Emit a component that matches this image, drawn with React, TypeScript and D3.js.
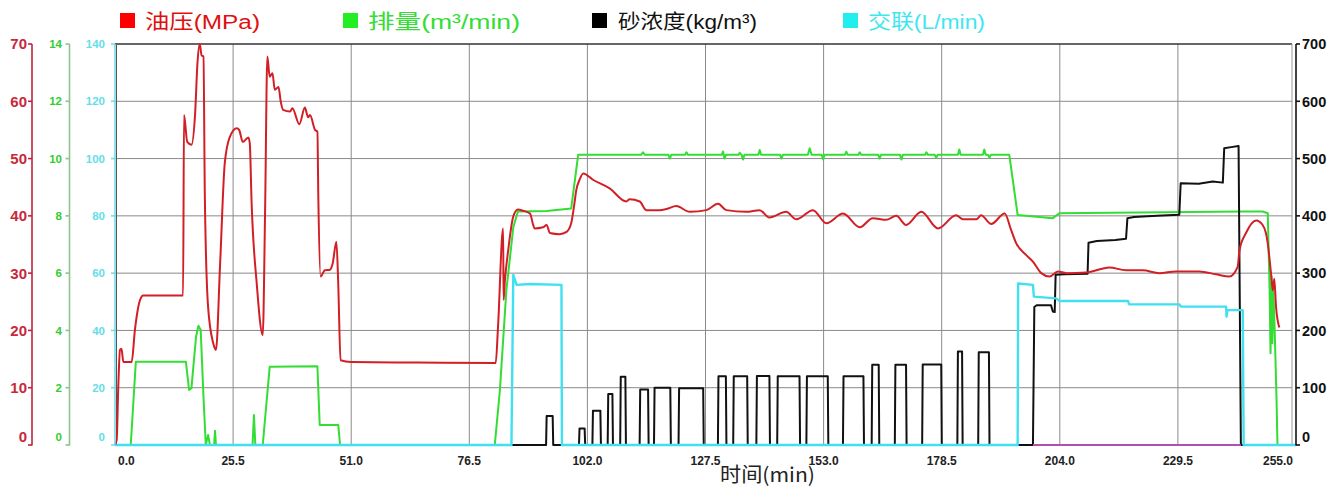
import React, { useEffect } from 'react';
import * as d3 from 'd3';

const W = 1341;
const H = 487;

// ---- tick values ----
const timeTicks = [0, 25.5, 51, 76.5, 102, 127.5, 153, 178.5, 204, 229.5, 255];
const pressureTicks = [0, 10, 20, 30, 40, 50, 60, 70];
const rateTicks = [0, 2, 4, 6, 8, 10, 12, 14];
const xlinkTicks = [0, 20, 40, 60, 80, 100, 120, 140];
const sandTicks = [0, 100, 200, 300, 400, 500, 600, 700];

// ---- 油压 (MPa) ----
const pressureT = [0, 0.36, 0.7, 1.08, 1.4, 1.8, 3.6, 4.3, 5.4, 6.1, 14.7, 14.9, 15.6, 16.5, 17.3, 17.8, 18.3, 18.7, 19.1, 19.4, 20.1, 21.2, 21.8, 22.7, 23.7, 24.8, 26.3, 26.8, 27.6, 28.8, 29.1, 29.5, 30.6, 31.9, 32.4, 32.9, 33.4, 34.0, 34.5, 35.3, 35.8, 36.3, 37.8, 38.3, 39.8, 41.0, 41.7, 42.1, 43.2, 43.7, 43.9, 44.4, 45.3, 46.4, 47.0, 47.8, 48.2, 48.7, 51, 65, 82.2, 82.7, 83.8, 83.9, 84.2, 84.9, 86.0, 87.0, 88.1, 89.6, 90.3, 90.6, 92.4, 93.2, 93.9, 96.0, 97.5, 98.5, 99.1, 99.6, 100.3, 101.1, 103.2, 106.8, 110.4, 111.1, 113.3, 114.7, 117.6, 119.1, 121.2, 124.1, 127.7, 130.2, 132.0, 136.3, 139.2, 141.3, 144.9, 147.1, 150.7, 153.6, 157.2, 160.8, 163.6, 166.5, 168.7, 170.8, 174.1, 177.7, 181.6, 183.1, 186.0, 187.0, 189.2, 192.1, 193.5, 194.6, 196.7, 198.2, 200.0, 201.8, 203.6, 205.4, 209.7, 214.7, 218.3, 221.9, 225.5, 229.1, 234.1, 237.7, 240.6, 242.4, 242.8, 244.2, 246.4, 247.8, 248.5, 248.9, 249.6, 250.0, 250.3, 250.7, 251.4];
const pressureV = [0, 0.9, 10, 16.6, 16.8, 14.5, 14.5, 20.1, 25.3, 26.1, 26.1, 57.6, 52.9, 52.4, 57.9, 66.6, 70, 68, 67.8, 43.3, 24.1, 17.8, 16.6, 31.7, 49.2, 53.8, 55.3, 55.0, 52.9, 53.7, 52.7, 42.2, 28.2, 19.2, 40.4, 67.8, 64.3, 64.9, 62.0, 62.5, 59.9, 58.5, 58.2, 58.8, 56.0, 58.9, 57.2, 57.6, 55.0, 54.7, 43.3, 29.4, 30.5, 30.6, 31.7, 35.5, 28.2, 14.8, 14.5, 14.4, 14.3, 20.6, 37.8, 25.3, 28.8, 34.0, 39.9, 41.1, 40.9, 40.4, 38.4, 37.8, 38.0, 38.4, 37.0, 36.8, 37.2, 38.7, 41.6, 44.5, 46.3, 47.4, 46.3, 44.8, 42.5, 42.9, 42.5, 41.0, 41.0, 41.2, 41.7, 40.7, 41.0, 42.1, 41.0, 40.7, 41.0, 39.7, 40.7, 39.4, 41.0, 38.7, 40.4, 38.0, 39.6, 39.3, 40.0, 38.4, 40.7, 37.8, 40.1, 39.4, 39.4, 40.1, 38.6, 40.4, 37.5, 35.2, 33.2, 32.0, 30.0, 29.4, 30.3, 30.0, 30.1, 31.0, 30.5, 30.5, 30.0, 30.3, 30.3, 29.8, 29.4, 31.1, 34.0, 37.0, 39.2, 38.4, 37.0, 35.2, 30.0, 27.0, 29.0, 24.0, 20.5];

// ---- 排量 (m³/min) ----
const rateT = [0, 3.4, 4.5, 15.3, 16.0, 16.5, 17.5, 18.0, 18.5, 19.1, 19.6, 20.1, 20.5, 21.4, 21.6, 21.8, 29.7, 30.0, 30.3, 31.9, 33.4, 43.7, 44.2, 48.2, 48.6, 82.0, 83.1, 84.5, 86.0, 87.0, 93.2, 98.5, 99.3,
  100.0, 113.6, 114.0, 114.4, 119.5, 119.8, 120.1, 123.1, 123.4, 123.7, 131.0, 131.3, 131.6, 131.9, 134.6, 134.9, 135.3, 135.6, 135.9, 138.9, 139.2, 139.5, 143.6, 143.9, 144.2, 149.6, 150.0, 150.4, 152.6, 152.9, 153.2, 157.6, 157.9, 158.2, 160.5, 160.8, 161.1, 164.8, 165.1, 165.4, 169.5, 169.8, 170.1, 174.9, 175.2, 175.5, 177.0, 177.3, 177.6, 182.0, 182.3, 182.6, 187.4, 187.7, 188.0, 188.5, 188.8, 189.1, 193.1,
  194.9, 202.5, 203.9, 243.5, 247.8, 248.9, 249.3, 249.5, 249.7, 249.9, 250.1, 250.4, 250.8, 251.0, 255];
const rateV = [0, 0, 2.91, 2.91, 1.92, 1.98, 3.78, 4.16, 4.02, 1.7, 0, 0.35, 0, 0, 0.5, 0, 0, 1.05, 0, 0, 2.73, 2.75, 0.7, 0.7, 0, 0, 1.9, 5.4, 7.6, 8.15, 8.17, 8.26, 9.25,
  10.13, 10.13, 10.22, 10.13, 10.13, 10.0, 10.13, 10.13, 10.22, 10.13, 10.13, 10.25, 10.0, 10.13, 10.13, 10.2, 10.13, 9.97, 10.13, 10.13, 10.3, 10.13, 10.13, 10.0, 10.13, 10.13, 10.36, 10.13, 10.13, 9.97, 10.13, 10.13, 10.24, 10.13, 10.13, 10.22, 10.13, 10.13, 10.0, 10.13, 10.13, 9.97, 10.13, 10.13, 10.22, 10.13, 10.13, 10.03, 10.13, 10.13, 10.32, 10.13, 10.13, 10.32, 10.13, 10.13, 10.03, 10.13, 10.13,
  8.03, 7.92, 8.09, 8.15, 8.15, 8.09, 5.4, 3.2, 5.9, 3.55, 5.4, 4.0, 1.57, 0, 0];

// ---- 砂浓度 (kg/m³): pulses [start, end, level] then the staircase ----
const sandPulseStart = [93.2, 100.3, 103.2, 106.5, 109.2, 113.4, 116.5, 121.8, 130.3, 133.6, 138.6, 143.1, 149.4, 157.3, 163.5, 168.5, 174.4, 182.0, 186.5];
const sandPulseEnd = [94.5, 101.4, 104.8, 107.4, 110.2, 115.1, 119.9, 127.0, 131.9, 136.5, 141.3, 147.8, 153.9, 161.6, 164.9, 170.8, 178.4, 182.9, 188.7];
const sandPulseLevel = [50.6, 29, 60, 89, 119, 97, 100, 99, 120, 120, 120.5, 120, 120, 120, 140, 140, 140.5, 163, 162];
const sandStairT = [198.2, 198.5, 199.0, 202.1, 202.5, 202.9, 203.1, 205, 210, 210.2, 212, 216, 218.3, 218.6, 220, 225, 229.8, 230.1, 234, 237, 239.2, 239.5, 241, 242.6, 243.1, 255];
const sandStairV = [0, 241, 244, 244, 233, 232, 297, 298, 299, 353, 356, 358, 360, 396, 398, 400, 402, 457, 456, 460, 458, 518, 520, 522, 0, 0];

// ---- 交联 (L/min) ----
const xlinkT = [0, 85.6, 86.0, 86.7, 89.6, 96.4, 96.5, 194.9, 195.0, 198.2, 198.4, 203.2, 203.9, 218.7, 219.0, 229.8, 230.2, 239.9, 240.0, 240.2, 243.5, 243.7, 255];
const xlinkV = [0, 0, 59.4, 55.9, 56.2, 55.9, 0, 0, 56.4, 55.9, 51.8, 51.2, 50.3, 50.3, 49.1, 49.1, 48.3, 48.3, 44.8, 47.1, 47.1, 0, 0];

// ---- extra zero trace (magenta) ----
const extraT = [198.2, 243.1];
const extraV = [0, 0];

const legendLabels = ['油压(MPa)', '排量(m³/min)', '砂浓度(kg/m³)', '交联(L/min)'];
const legendSwatch = ['#ff0000', '#22ee22', '#000000', '#22eeee'];
const legendText = ['#e01010', '#33dd33', '#111111', '#3ee6f0'];

const zip = (t: number[], v: number[]): [number, number][] => t.map((d, i) => [d, v[i]]);

export default function App() {
  useEffect(() => {
    document.body.style.margin = '0';
    document.body.style.overflow = 'hidden';
  }, []);

  const plotL = 115, plotR = 1296, boxR = 1292, plotT = 44, plotB = 445;
  const x = d3.scaleLinear().domain([0, 255]).range([plotL, plotR]);
  const yP = d3.scaleLinear().domain([0, 70]).range([plotB, plotT]);
  const yR = d3.scaleLinear().domain([0, 14]).range([plotB, plotT]);
  const yC = d3.scaleLinear().domain([0, 140]).range([plotB, plotT]);
  const yS = d3.scaleLinear().domain([0, 700]).range([plotB, plotT]);

  const mk = (ys: d3.ScaleLinear<number, number>, smooth = false) => {
    const l = d3.line<[number, number]>().x(d => x(d[0])).y(d => ys(d[1]));
    return smooth ? l.curve(d3.curveMonotoneX) : l;
  };

  const sandPts: [number, number][] = [[0, 0]];
  sandPulseStart.forEach((s, i) => {
    const e = sandPulseEnd[i], lv = sandPulseLevel[i];
    sandPts.push([s - 0.12, 0], [s, lv], [e, lv], [e + 0.12, 0]);
  });
  sandStairT.forEach((t, i) => sandPts.push([t, sandStairV[i]]));

  const pressurePath = mk(yP, true)(zip(pressureT, pressureV)) || '';
  const ratePath = mk(yR)(zip(rateT, rateV)) || '';
  const sandPath = mk(yS)(sandPts) || '';
  const xlinkPath = mk(yC)(zip(xlinkT, xlinkV)) || '';
  const extraPath = mk(yS)(zip(extraT, extraV)) || '';

  const font = "'Liberation Sans', Arial, sans-serif";
  const gridColor = '#8a8a8a';

  const leftAxis = (ticks: number[], scale: d3.ScaleLinear<number, number>, ax: number, lineColor: string, textColor: string, size: number, labelX: number) => (
    <g>
      <line x1={ax} x2={ax} y1={plotT} y2={plotB + 0.5} stroke={lineColor} strokeWidth={1.6} />
      {ticks.map(t => (
        <g key={t}>
          <line x1={ax - 4} x2={ax} y1={scale(t)} y2={scale(t)} stroke={lineColor} strokeWidth={1.6} />
          <text x={labelX} y={scale(t) - (t === 0 ? 8 : 0)} dy="0.36em" textAnchor="end" fontFamily={font}
            fontWeight="bold" fontSize={size} fill={textColor}>{t}</text>
        </g>
      ))}
    </g>
  );

  const legendSq = [120, 343, 592, 843];
  const legendTx = [145, 368, 618, 868];
  const legendW = [115, 152, 139, 117];

  return (
    <svg width={W} height={H} style={{ position: 'absolute', left: 0, top: 0, background: '#fff' }}>
      <rect x={0} y={0} width={W} height={H} fill="#fff" />
      {/* grid */}
      {pressureTicks.slice(1, -1).map(t => (
        <line key={'h' + t} x1={plotL} x2={boxR} y1={yP(t)} y2={yP(t)} stroke={gridColor} strokeWidth={1} />
      ))}
      {timeTicks.slice(1, -1).map(t => (
        <line key={'v' + t} x1={x(t)} x2={x(t)} y1={plotT} y2={plotB} stroke={gridColor} strokeWidth={1} />
      ))}
      <line x1={plotL} x2={boxR} y1={plotT} y2={plotT} stroke="#333" strokeWidth={1.3} />
      <line x1={boxR} x2={boxR} y1={plotT} y2={plotB} stroke="#999" strokeWidth={1} />
      <line x1={plotL + 1.5} x2={plotL + 1.5} y1={plotT} y2={plotB} stroke="#555" strokeWidth={1} />

      {/* series */}
      <path d={ratePath} fill="none" stroke="#33dd33" strokeWidth={2} strokeLinejoin="round" />
      <path d={sandPath} fill="none" stroke="#111" strokeWidth={2} strokeLinejoin="round" />
      <path d={extraPath} fill="none" stroke="#b050b0" strokeWidth={2} />
      <path d={xlinkPath} fill="none" stroke="#40e0f0" strokeWidth={2.4} strokeLinejoin="round" />
      <path d={pressurePath} fill="none" stroke="#d21f26" strokeWidth={2} strokeLinejoin="round" />

      {/* left axes */}
      {leftAxis(pressureTicks, yP, 32, '#b8283c', '#c8283c', 15, 27)}
      {leftAxis(rateTicks, yR, 69.5, '#8fc48f', '#33cc33', 11.5, 62)}
      {leftAxis(xlinkTicks, yC, 115, '#70dde6', '#66dde8', 11.5, 105)}

      {/* right axis */}
      <line x1={plotR} x2={plotR} y1={plotT} y2={plotB + 0.5} stroke="#111" strokeWidth={1.6} />
      {sandTicks.map(t => (
        <g key={'s' + t}>
          <line x1={plotR} x2={plotR + 4} y1={yS(t)} y2={yS(t)} stroke="#111" strokeWidth={1.6} />
          <text x={plotR + 6} y={yS(t) - (t === 0 ? 8 : 0)} dy="0.36em" fontFamily={font} fontWeight="bold" fontSize={14.5} fill="#111">{t}</text>
        </g>
      ))}

      {/* x tick labels */}
      {timeTicks.map((t, i) => (
        <text key={'xt' + t} x={i === 0 ? x(t) + 3 : i === timeTicks.length - 1 ? x(t) - 3 : x(t)} y={465}
          textAnchor={i === 0 ? 'start' : i === timeTicks.length - 1 ? 'end' : 'middle'}
          fontFamily={font} fontWeight="bold" fontSize={12} fill="#222">{t.toFixed(1)}</text>
      ))}
      <text x={720} y={482} fontFamily="'Noto Sans CJK SC', 'Liberation Sans', sans-serif" fontSize={20} fill="#222"
        textLength={95} lengthAdjust="spacingAndGlyphs">时间(min)</text>

      {/* legend */}
      {legendLabels.map((lab, i) => (
        <g key={'lg' + i}>
          <rect x={legendSq[i]} y={13} width={15} height={15} fill={legendSwatch[i]} />
          <text x={legendTx[i]} y={29} fontFamily="'Liberation Sans', 'Noto Sans CJK SC', sans-serif" fontSize={20}
            fill={legendText[i]} textLength={legendW[i]} lengthAdjust="spacingAndGlyphs">{lab}</text>
        </g>
      ))}
    </svg>
  );
}
